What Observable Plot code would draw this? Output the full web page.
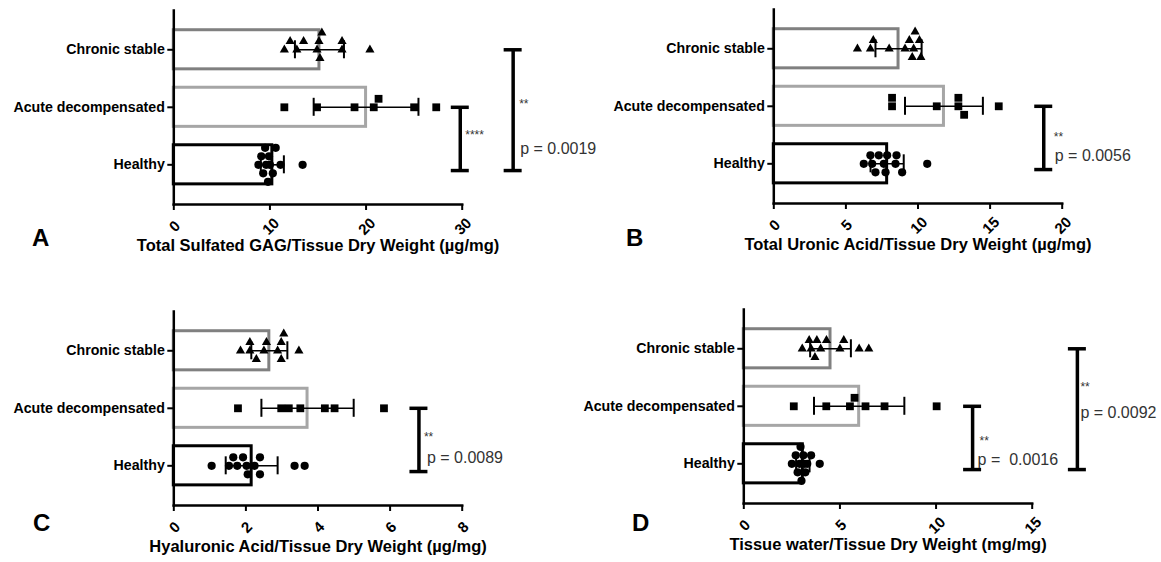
<!DOCTYPE html>
<html><head><meta charset="utf-8">
<script src="https://cdn.jsdelivr.net/npm/d3@7"></script>
<script src="https://cdn.jsdelivr.net/npm/@observablehq/plot@0.6"></script>
<style>
body{margin:0;background:#fff;font-family:Arial,"Liberation Sans",sans-serif;}
#wrap{position:relative;width:1161px;height:562px;overflow:hidden;background:#fff;}
.panel{position:absolute;}
.letter{position:absolute;font:bold 24px Arial,"Liberation Sans",sans-serif;color:#000;line-height:1;}
</style>
</head><body><div id="wrap"></div>
<script>
const groups = ["Chronic stable", "Acute decompensated", "Healthy"];

// ---- Panel A: Total sulfated GAG ----
const aTicks = [0, 10, 20, 30];
const aTitle = "Total Sulfated GAG/Tissue Dry Weight (µg/mg)";
const aChronic = [11.5, 12.1, 12.8, 13.5, 14.9, 15.1, 15.2, 15.4, 17.5, 17.5, 20.4];
const aAcute = [11.5, 14.9, 18.8, 20.8, 21.3, 25.0, 27.3];
const aHealthy = [8.8, 9.1, 9.3, 9.5, 9.6, 9.8, 9.9, 10.0, 10.3, 10.6, 11.1, 13.4];
const aMean = [15.15, 20.0, 10.25];
const aSD = [2.55, 5.45, 1.2];
const aBrackets = [
  {x: 29.8, from: "Acute decompensated", to: "Healthy", stars: "****", p: ""},
  {x: 35.3, from: "Chronic stable", to: "Healthy", stars: "**", p: "p = 0.0019"}
];

// ---- Panel B: Total uronic acid ----
const bTicks = [0, 5, 10, 15, 20];
const bTitle = "Total Uronic Acid/Tissue Dry Weight (µg/mg)";
const bChronic = [5.8, 6.7, 6.9, 8.0, 9.1, 9.4, 9.6, 9.7, 9.8, 10.1, 10.2];
const bAcute = [8.2, 8.2, 11.3, 12.8, 12.8, 13.2, 15.6];
const bHealthy = [6.24, 6.7, 6.82, 7.05, 7.28, 7.63, 7.75, 7.86, 8.44, 8.51, 8.9, 10.64];
const bMean = [8.65, 11.8, 7.86];
const bSD = [1.6, 2.7, 1.15];
const bBrackets = [
  {x: 18.72, from: "Acute decompensated", to: "Healthy", stars: "**", p: "p = 0.0056"}
];

// ---- Panel C: Hyaluronic acid ----
const cTicks = [0, 2, 4, 6, 8];
const cTitle = "Hyaluronic Acid/Tissue Dry Weight (µg/mg)";
const cChronic = [1.85, 2.11, 2.11, 2.29, 2.50, 2.57, 2.88, 2.98, 2.98, 3.05, 3.47];
const cAcute = [1.78, 2.98, 3.19, 3.51, 4.19, 4.46, 5.83];
const cHealthy = [1.05, 1.53, 1.65, 1.76, 1.92, 2.02, 2.05, 2.24, 2.39, 2.39, 3.35, 3.63];
const cMean = [2.65, 3.71, 2.16];
const cSD = [0.5, 1.28, 0.72];
const cBrackets = [
  {x: 6.8, from: "Acute decompensated", to: "Healthy", stars: "**", p: "p = 0.0089"}
];

// ---- Panel D: Tissue water ----
const dTicks = [0, 5, 10, 15];
const dTitle = "Tissue water/Tissue Dry Weight (mg/mg)";
const dChronic = [3.04, 3.4, 3.5, 3.7, 3.8, 4.0, 4.3, 5.0, 5.2, 6.0, 6.5];
const dAcute = [2.60, 4.29, 5.52, 5.76, 6.33, 7.32, 10.03];
const dHealthy = [2.5, 2.7, 2.8, 2.9, 2.95, 3.0, 3.1, 3.15, 3.2, 3.3, 3.5, 3.95];
const dMean = [4.51, 6.0, 3.07];
const dSD = [1.06, 2.35, 0.35];
const dBrackets = [
  {x: 11.9, from: "Acute decompensated", to: "Healthy", stars: "**", p: "p =  0.0016"},
  {x: 17.35, from: "Chronic stable", to: "Healthy", stars: "**", p: "p = 0.0092"}
];

// ---------- layout ----------
const AX_LEFT = 173.3, AX_RIGHT = 461.7, AX_PX = AX_RIGHT - AX_LEFT;
const Y_DOMAIN = [-0.683, 2.69];
const STEP = 194 / (Y_DOMAIN[1] - Y_DOMAIN[0]);
const barStroke = ["#808080", "#a6a6a6", "#000000"];
const symbols = ["triangle", "square", "circle"];
const radii = [3.4, 4.4, 4.1];

function assignLanes(values, xMax) {
  const gap = xMax * 7.5 / AX_PX;
  const order = values.map((v, i) => i).sort((a, b) => values[a] - values[b]);
  const lanes = new Array(values.length);
  const placed = [];
  const tries = [0, -1, 1, -2, 2];
  for (const i of order) {
    let best = 0, bestC = Infinity;
    for (const l of tries) {
      const c = placed.filter(p => p.lane === l && Math.abs(p.v - values[i]) < gap).length;
      if (c < bestC) { bestC = c; best = l; }
      if (c === 0) break;
    }
    lanes[i] = best;
    placed.push({v: values[i], lane: best});
  }
  return lanes;
}

function panel(cfg) {
  const {pts, mean, sd, ticks, title, brackets, notes, left, top, width} = cfg;
  const xMax = ticks[ticks.length - 1];
  const pxu = AX_PX / xMax;
  const rows = [];
  pts.forEach((vals, gi) => {
    const lanes = assignLanes(vals, xMax);
    vals.forEach((v, i) => rows.push({gi, v, lane: lanes[i]}));
  });
  const bars = groups.map((g, gi) => ({gi, mean: mean[gi], lo: mean[gi] - sd[gi], hi: mean[gi] + sd[gi]}));
  const caps = bars.flatMap(b => [{gi: b.gi, v: b.lo}, {gi: b.gi, v: b.hi}]);
  const H = 0.34, capH = 9 / STEP, laneH = 8.5 / STEP;
  const br = brackets.map(b => ({x: b.x, y1: groups.indexOf(b.from), y2: groups.indexOf(b.to) + 0.1}));
  const brCaps = br.flatMap(b => [{x: b.x, y: b.y1}, {x: b.x, y: b.y2}]);
  const capW = 9 / pxu;
  const marks = [];
  groups.forEach((g, gi) => {
    marks.push(Plot.rect(bars.filter(b => b.gi === gi), {
      x1: d => 0, x2: "mean", y1: d => d.gi - H, y2: d => d.gi + H,
      fill: "white", stroke: barStroke[gi], strokeWidth: 3
    }));
  });
  groups.forEach((g, gi) => {
    marks.push(Plot.dot(rows.filter(r => r.gi === gi), {
      x: "v", y: d => d.gi + d.lane * laneH, symbol: symbols[gi], r: radii[gi], fill: "black", stroke: "none"
    }));
  });
  marks.push(
    Plot.ruleY(bars, {y: "gi", x1: "lo", x2: "hi", stroke: "black", strokeWidth: 1.6}),
    Plot.ruleX(caps, {x: "v", y1: d => d.gi - capH, y2: d => d.gi + capH, stroke: "black", strokeWidth: 2}),
    Plot.ruleX(br, {x: "x", y1: "y1", y2: "y2", stroke: "black", strokeWidth: 3.5}),
    Plot.ruleY(brCaps, {y: "y", x1: d => d.x - capW, x2: d => d.x + capW, stroke: "black", strokeWidth: 3.5})
  );
  brackets.forEach((b, i) => {
    const n = notes[i];
    marks.push(Plot.text([b], {x: "x", y: d => n.sy, text: "stars", dx: n.sdx, fontSize: 12, textAnchor: "start", fill: "#333"}));
    if (b.p) marks.push(Plot.text([b], {x: "x", y: d => n.py, text: "p", dx: n.pdx, fontSize: 16, textAnchor: "start", fill: "#333"}));
  });
  marks.push(
    Plot.frame({anchor: "left", stroke: "black", strokeWidth: 2.5}),
    Plot.frame({anchor: "bottom", stroke: "black", strokeWidth: 2.5}),
    Plot.axisY({ticks: [0, 1, 2], tickFormat: i => groups[i], tickSize: 6, tickPadding: 3,
      fontSize: 14.2, fontWeight: "bold", strokeWidth: 2, label: null}),
    Plot.axisX({ticks, tickSize: 6, tickFormat: () => "", strokeWidth: 2, label: null}),
    Plot.text(ticks, {x: d => d, text: d => String(d), frameAnchor: "bottom", dy: 22, dx: 1, rotate: -45,
      textAnchor: "middle", lineAnchor: "middle", fontSize: 15, fontWeight: "bold", fill: "black"}),
    Plot.text([title], {text: d => d, frameAnchor: "bottom", dy: 46, fontSize: 16.5, fontWeight: "bold", fill: "black"})
  );
  const svg = Plot.plot({
    width, height: 260,
    marginLeft: AX_LEFT, marginRight: width - AX_RIGHT, marginTop: 10, marginBottom: 56,
    x: {domain: [0, xMax]},
    y: {domain: Y_DOMAIN, reverse: true},
    style: {fontFamily: "Arial, 'Liberation Sans', sans-serif", color: "black", background: "transparent", overflow: "visible", maxWidth: "none"},
    marks
  });
  const div = document.createElement("div");
  div.className = "panel";
  div.style.left = left + "px";
  div.style.top = top + "px";
  div.appendChild(svg);
  document.getElementById("wrap").appendChild(div);
}

panel({pts: [aChronic, aAcute, aHealthy], mean: aMean, sd: aSD, ticks: aTicks, title: aTitle, brackets: aBrackets,
  notes: [{sy: 1.49, sdx: 5}, {sy: 0.95, sdx: 6, py: 1.72, pdx: 7}], left: 0, top: 0, width: 600});
panel({pts: [bChronic, bAcute, bHealthy], mean: bMean, sd: bSD, ticks: bTicks, title: bTitle, brackets: bBrackets,
  notes: [{sy: 1.54, sdx: 10, py: 1.86, pdx: 11}], left: 600, top: -1, width: 561});
panel({pts: [cChronic, cAcute, cHealthy], mean: cMean, sd: cSD, ticks: cTicks, title: cTitle, brackets: cBrackets,
  notes: [{sy: 1.51, sdx: 5, py: 1.86, pdx: 8}], left: 0, top: 301, width: 600});
panel({pts: [dChronic, dAcute, dHealthy], mean: dMean, sd: dSD, ticks: dTicks, title: dTitle, brackets: dBrackets,
  notes: [{sy: 1.61, sdx: 7, py: 1.94, pdx: 5}, {sy: 0.67, sdx: 3, py: 1.11, pdx: 3}], left: 570, top: 299, width: 591});

const letters = [["A", 32, 226], ["B", 626, 226], ["C", 33, 511], ["D", 632, 511]];
for (const [t, x, y] of letters) {
  const el = document.createElement("div");
  el.className = "letter";
  el.textContent = t;
  el.style.left = x + "px";
  el.style.top = y + "px";
  document.getElementById("wrap").appendChild(el);
}
</script>
</body></html>
